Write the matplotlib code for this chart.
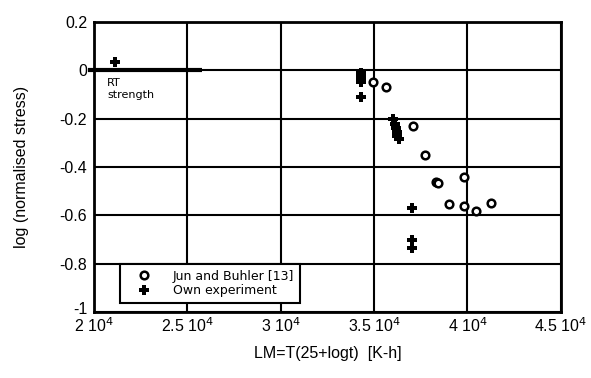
import matplotlib
matplotlib.use('Agg')
import matplotlib.pyplot as plt
import matplotlib.transforms as mtransforms

plt.rcParams['font.family'] = ['Liberation Sans', 'DejaVu Sans']

# Jun and Buhler [13]
jb_lm = [34940, 35630, 37080, 37720, 38330, 38400, 39810, 39000, 39810, 40450, 41250]
jb_val = [-0.046, -0.070, -0.232, -0.352, -0.460, -0.468, -0.443, -0.551, -0.563, -0.580, -0.547]

# own experiment
own_lm = [21120, 34290, 34290, 34290, 34290, 34290, 36000, 36100, 36150, 36200, 36250, 36330, 37020, 37020, 37020]
own_val = [0.033, -0.012, -0.025, -0.037, -0.050, -0.112, -0.200, -0.220, -0.240, -0.255, -0.270, -0.282, -0.571, -0.704, -0.737]

rt_lm = [19700, 25780]
rt_val = [0, 0]

xticks = [20000, 25000, 30000, 35000, 40000, 45000]
xlabels = [r'2 10$^4$', r'2.5 10$^4$', r'3 10$^4$', r'3.5 10$^4$', r'4 10$^4$', r'4.5 10$^4$']
yticks = [-1, -0.8, -0.6, -0.4, -0.2, 0, 0.2]
ylabels = ['-1', '-0.8', '-0.6', '-0.4', '-0.2', '0', '0.2']

fig = plt.figure(figsize=(5.91, 3.78), dpi=100)
ax = fig.add_axes([0.159, 0.1746, 0.79, 0.767])

ax.plot(rt_lm, rt_val, color='black', lw=3, solid_capstyle='butt', clip_on=False, zorder=4)
ax.text(20700, -0.03, 'RT\nstrength', fontsize=8, family='DejaVu Sans',
        va='top', ha='left', linespacing=1.35)

ax.plot(jb_lm, jb_val, 'o', ms=5.5, mfc='white', mec='black', mew=1.8, zorder=5,
        label='Jun and Buhler [13]')
ax.plot(own_lm, own_val, 'P', ms=6.5, color='black', mew=0, zorder=5,
        label='Own experiment')

ax.set_xlim(20000, 45000)
ax.set_ylim(-1, 0.2)
ax.set_xticks(xticks)
ax.set_xticklabels(xlabels, fontsize=11.5)
ax.set_yticks(yticks)
ax.set_yticklabels(ylabels, fontsize=11.5)
ax.tick_params(axis='y', length=0, pad=5)
ax.tick_params(axis='x', length=0, pad=3)
ax.grid(True, color='black', lw=1.5)
ax.set_axisbelow(True)
for sp in ax.spines.values():
    sp.set_linewidth(2)

# the "-1" sits a little above the axis corner
lab = ax.get_yticklabels()[0]
lab.set_transform(lab.get_transform() + mtransforms.ScaledTranslation(0, 3 / 72, fig.dpi_scale_trans))

ax.set_xlabel('LM=T(25+logt)  [K-h]', fontsize=11.5, labelpad=8)
ax.set_ylabel('log (normalised stress)', fontsize=11.5, labelpad=22)

leg = ax.legend(loc='lower left', bbox_to_anchor=(0.055, 0.032),
                prop={'family': 'DejaVu Sans', 'size': 9},
                frameon=True, fancybox=False, edgecolor='black', framealpha=1,
                handletextpad=0.8, handlelength=3.0, borderpad=0.45, labelspacing=0.1,
                borderaxespad=0)
leg.get_frame().set_linewidth(1.5)

fig.savefig('out.png', dpi=100)
